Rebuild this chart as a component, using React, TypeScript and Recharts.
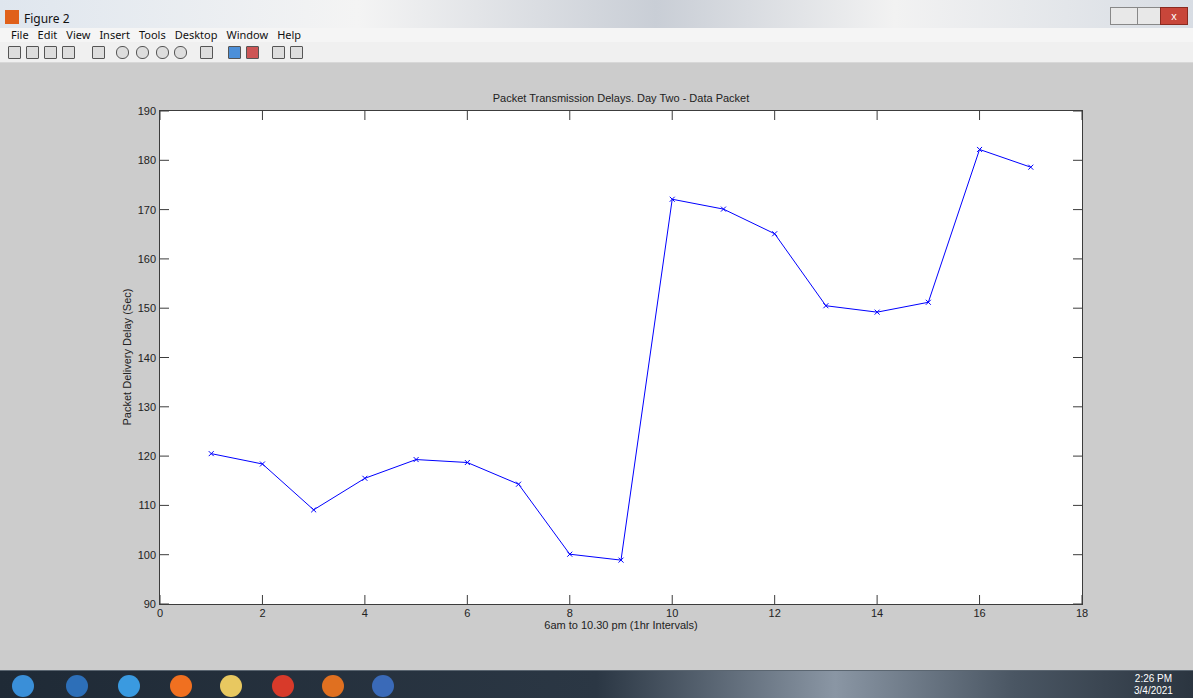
import React from "react";
import { LineChart, Line, XAxis, YAxis } from "recharts";

// hour index along the x axis
const hours = [1, 2, 3, 4, 5, 6, 7, 8, 9, 10, 11, 12, 13, 14, 15, 16, 17];
// packet delivery delay (sec)
const delays = [
  120.5, 118.4, 109.1, 115.5, 119.3, 118.7, 114.3, 100.1, 98.9, 172.1, 170.1,
  165.1, 150.5, 149.2, 151.2, 182.2, 178.6,
];
const xTicks = [0, 2, 4, 6, 8, 10, 12, 14, 16, 18];
const yTicks = [90, 100, 110, 120, 130, 140, 150, 160, 170, 180, 190];
const menuItems = ["File", "Edit", "View", "Insert", "Tools", "Desktop", "Window", "Help"];

const data = hours.map((h, i) => ({ h, d: delays[i] }));

const FONT = "'Liberation Sans', Arial, sans-serif";
const TICK_LEN = 9;
const AXIS_COLOR = "#3c3c3c";

// plot box
const PLOT_L = 160;
const PLOT_T = 111;
const PLOT_W = 922;
const PLOT_H = 493;
const PLOT_R = PLOT_L + PLOT_W;
const PLOT_B = PLOT_T + PLOT_H;

const XMark = (props: any) => {
  const { cx, cy } = props;
  if (cx == null || cy == null) return null;
  const s = 2.5;
  return (
    <g stroke="#0000ff" strokeWidth={1}>
      <line x1={cx - s} y1={cy - s} x2={cx + s} y2={cy + s} />
      <line x1={cx - s} y1={cy + s} x2={cx + s} y2={cy - s} />
    </g>
  );
};

// matlab style: ticks point into the box on all four sides
const BottomTick = (props: any) => {
  const { x, payload } = props;
  const px = payload && typeof payload.coordinate === "number" ? payload.coordinate : x;
  return (
    <g>
      <path
        d={`M${px},${PLOT_B}V${PLOT_B - TICK_LEN}M${px},${PLOT_T}V${PLOT_T + TICK_LEN}`}
        stroke={AXIS_COLOR}
        strokeWidth={1}
        fill="none"
      />
      <text x={px} y={PLOT_B + 13} textAnchor="middle" fontSize={11} fontFamily={FONT} fill="#222">
        {payload.value}
      </text>
    </g>
  );
};

const LeftTick = (props: any) => {
  const { y, payload } = props;
  const py = payload && typeof payload.coordinate === "number" ? payload.coordinate : y;
  return (
    <g>
      <path
        d={`M${PLOT_L},${py}H${PLOT_L + TICK_LEN}M${PLOT_R},${py}H${PLOT_R - TICK_LEN}`}
        stroke={AXIS_COLOR}
        strokeWidth={1}
        fill="none"
      />
      <text x={PLOT_L - 4} y={py + 4} textAnchor="end" fontSize={11} fontFamily={FONT} fill="#222">
        {payload.value}
      </text>
    </g>
  );
};

export default function App() {
  return (
    <div
      style={{
        position: "fixed",
        left: 0,
        top: 0,
        width: 1193,
        height: 698,
        background: "#cccccc",
        overflow: "hidden",
        fontFamily: FONT,
      }}
    >
      {/* window title bar */}
      <div
        style={{
          position: "absolute",
          left: 0,
          top: 0,
          width: 1193,
          height: 28,
          background: "linear-gradient(90deg,#dfe6ee 0%,#f4f4f4 30%,#c9ced6 55%,#f2f2f2 75%,#d8dde4 100%)",
        }}
      >
        <div style={{ position: "absolute", left: 5, top: 10, width: 14, height: 14, background: "#e0601a" }} />
        <div style={{ position: "absolute", left: 24, top: 10, fontSize: 12, fontFamily: "'Noto Sans', sans-serif", color: "#111" }}>
          Figure 2
        </div>
        <div style={{ position: "absolute", left: 1110, top: 7, width: 26, height: 16, border: "1px solid #888", background: "#e8e8e8" }} />
        <div style={{ position: "absolute", left: 1137, top: 7, width: 22, height: 16, border: "1px solid #888", background: "#e8e8e8" }} />
        <div style={{ position: "absolute", left: 1160, top: 7, width: 26, height: 16, border: "1px solid #8a2a20", background: "#c8463a", color: "#fff", fontSize: 11, textAlign: "center", lineHeight: "16px" }}>
          x
        </div>
      </div>
      {/* menu bar */}
      <div
        style={{
          position: "absolute",
          left: 0,
          top: 28,
          width: 1193,
          height: 14,
          background: "#f5f5f5",
          fontSize: 11,
          fontFamily: "'Noto Sans', sans-serif",
          color: "#111",
          lineHeight: "14px",
        }}
      >
        {menuItems.map((m, i) => (
          <span key={m} style={{ marginLeft: i === 0 ? 11 : 9 }}>
            {m}
          </span>
        ))}
      </div>
      {/* toolbar */}
      <div style={{ position: "absolute", left: 0, top: 42, width: 1193, height: 20, background: "#f0f0f0", borderBottom: "1px solid #d8d8d8" }}>
        {[8, 26, 44, 62, 92, 116, 136, 156, 174, 200, 228, 246, 272, 290].map((x, i) => (
          <div
            key={i}
            style={{
              position: "absolute",
              left: x,
              top: 4,
              width: 11,
              height: 11,
              border: "1px solid #555",
              background: i === 10 ? "#4c8fd8" : i === 11 ? "#c55" : "#ddd",
              borderRadius: i >= 5 && i <= 8 ? 6 : 1,
            }}
          />
        ))}
      </div>

      {/* white plot box with its frame, behind the svg */}
      <div
        style={{
          position: "absolute",
          left: PLOT_L - 1,
          top: PLOT_T - 1,
          width: PLOT_W,
          height: PLOT_H,
          background: "#ffffff",
          border: `1px solid ${AXIS_COLOR}`,
        }}
      />

      {/* title and axis labels */}
      <div style={{ position: "absolute", left: PLOT_L, width: PLOT_W, top: 92, textAlign: "center", fontSize: 11, color: "#222" }}>
        Packet Transmission Delays. Day Two - Data Packet
      </div>
      <div style={{ position: "absolute", left: PLOT_L, width: PLOT_W, top: 619, textAlign: "center", fontSize: 11, color: "#222" }}>
        6am to 10.30 pm (1hr Intervals)
      </div>
      <div
        style={{
          position: "absolute",
          left: 127,
          top: 357,
          transform: "translate(-50%, -50%) rotate(-90deg)",
          whiteSpace: "nowrap",
          fontSize: 11,
          color: "#222",
        }}
      >
        Packet Delivery Delay (Sec)
      </div>

      <div style={{ position: "absolute", left: 0, top: 0 }}>
        <LineChart
          width={1193}
          height={698}
          data={data}
          margin={{ top: PLOT_T, right: 1193 - PLOT_R, bottom: 698 - PLOT_B - 40, left: PLOT_L - 60 }}
        >
          <XAxis
            dataKey="h"
            type="number"
            domain={[0, 18]}
            ticks={xTicks}
            height={40}
            tickSize={0}
            tickLine={false}
            tick={<BottomTick />}
            axisLine={false}
            interval={0}
          />
          <YAxis
            type="number"
            domain={[90, 190]}
            ticks={yTicks}
            width={60}
            tickSize={0}
            tickLine={false}
            tick={<LeftTick />}
            axisLine={false}
            interval={0}
          />
          <Line
            type="linear"
            dataKey="d"
            stroke="#0000ff"
            strokeWidth={1}
            dot={<XMark />}
            activeDot={false}
            isAnimationActive={false}
          />
        </LineChart>
      </div>

      {/* taskbar */}
      <div
        style={{
          position: "absolute",
          left: 0,
          top: 670,
          width: 1193,
          height: 28,
          background: "linear-gradient(90deg,#1f2a36 0%,#2b3744 50%,#8a96a4 70%,#4a5663 85%,#2b3540 100%)",
          borderTop: "1px solid #5a6570",
        }}
      >
        {[
          { x: 12, c: "#3a8fd8" },
          { x: 66, c: "#2d6fb8" },
          { x: 118, c: "#3a9ae0" },
          { x: 170, c: "#f07020" },
          { x: 220, c: "#e8c860" },
          { x: 272, c: "#d83a2a" },
          { x: 322, c: "#e07020" },
          { x: 372, c: "#3a6ab8" },
        ].map((b, i) => (
          <div key={i} style={{ position: "absolute", left: b.x, top: 4, width: 22, height: 22, borderRadius: 11, background: b.c }} />
        ))}
        <div style={{ position: "absolute", left: 1134, top: 2, fontSize: 10, color: "#fff", textAlign: "center", lineHeight: "12px" }}>
          2:26 PM
          <br />
          3/4/2021
        </div>
      </div>
    </div>
  );
}
